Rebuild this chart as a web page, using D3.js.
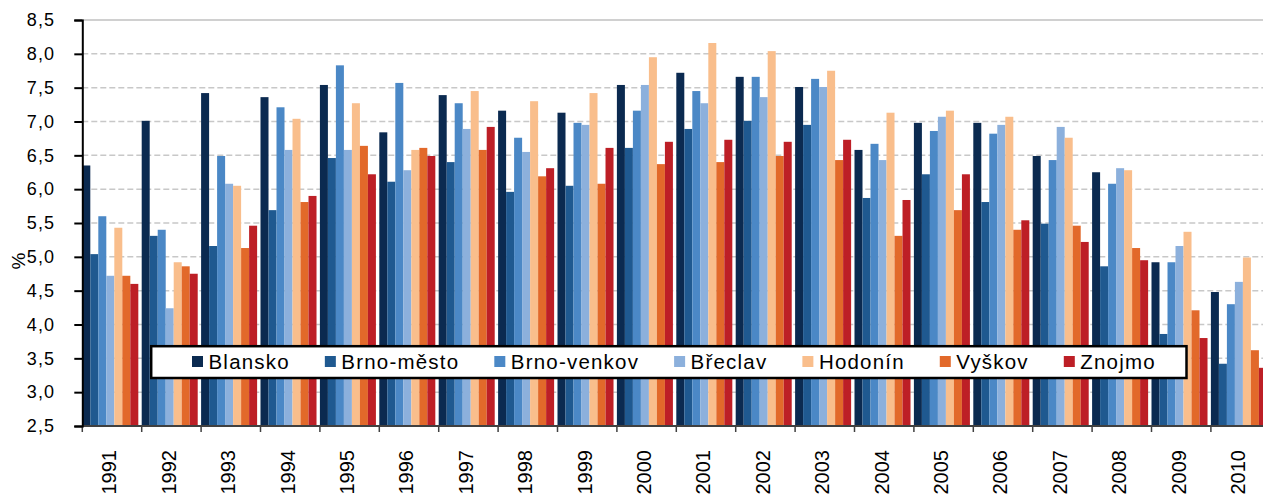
<!DOCTYPE html>
<html lang="cs">
<head>
  <meta charset="UTF-8">
  <title>Okresy 1991-2010</title>
  <style>
    body {
      margin: 0;
      background: #fff;
      font-family: "Liberation Sans", Arial, sans-serif;
    }
    .grid line {
      stroke: #c8c8c8;
      stroke-width: 1.5;
      stroke-dasharray: 6,3;
    }
    .grid .top {
      stroke-dasharray: none;
      stroke: #d0d0d0;
      stroke-width: 2;
    }
    .axis--y text {
      font-size: 18px;
      letter-spacing: 1.2px;
      fill: #000;
    }
    .axis--x text {
      font-size: 20px;
      fill: #000;
    }
    .legend text {
      font-size: 20.5px;
      letter-spacing: 1.2px;
      fill: #000;
    }
  </style>
  <script src="https://d3js.org/d3.v7.min.js"></script>
</head>
<body>
  <div id="chart"></div>
  <script>
/* global d3 */

var years = ["1991", "1992", "1993", "1994", "1995", "1996", "1997", "1998", "1999", "2000",
  "2001", "2002", "2003", "2004", "2005", "2006", "2007", "2008", "2009", "2010"];

var seriesNames = ["Blansko", "Brno-město", "Brno-venkov", "Břeclav", "Hodonín", "Vyškov", "Znojmo"];

var blansko    = [6.35, 7.01, 7.42, 7.36, 7.54, 6.84, 7.39, 7.16, 7.13, 7.54, 7.72, 7.66, 7.51, 6.58, 6.98, 6.98, 6.49, 6.25, 4.92, 4.48];
var brnoMesto  = [5.04, 5.31, 5.16, 5.69, 6.46, 6.11, 6.40, 5.96, 6.05, 6.61, 6.89, 7.01, 6.95, 5.87, 6.22, 5.81, 5.49, 4.86, 3.86, 3.42];
var brnoVenkov = [5.60, 5.40, 6.49, 7.21, 7.83, 7.57, 7.27, 6.76, 6.98, 7.16, 7.45, 7.66, 7.63, 6.67, 6.86, 6.82, 6.43, 6.08, 4.92, 4.30];
var breclav    = [4.72, 4.24, 6.08, 6.58, 6.58, 6.28, 6.89, 6.55, 6.95, 7.54, 7.27, 7.36, 7.51, 6.43, 7.07, 6.95, 6.92, 6.31, 5.16, 4.63];
var hodonin    = [5.43, 4.92, 6.05, 7.04, 7.27, 6.58, 7.45, 7.30, 7.42, 7.95, 8.16, 8.04, 7.75, 7.13, 7.16, 7.07, 6.76, 6.28, 5.37, 4.99];
var vyskov     = [4.72, 4.86, 5.13, 5.81, 6.64, 6.61, 6.58, 6.19, 6.08, 6.37, 6.40, 6.49, 6.43, 5.31, 5.69, 5.40, 5.46, 5.13, 4.21, 3.62];
var znojmo     = [4.60, 4.75, 5.46, 5.90, 6.22, 6.49, 6.92, 6.31, 6.61, 6.70, 6.73, 6.70, 6.73, 5.84, 6.22, 5.54, 5.22, 4.95, 3.80, 3.36];

var yTicks = [2.5, 3.0, 3.5, 4.0, 4.5, 5.0, 5.5, 6.0, 6.5, 7.0, 7.5, 8.0, 8.5];

var colors = ["#0b2a50", "#1f5990", "#4b88c6", "#8cb0dc", "#f9be8c", "#e2692a", "#bd1f26"];

var seriesValues = [blansko, brnoMesto, brnoVenkov, breclav, hodonin, vyskov, znojmo];

var W = 1263, H = 494;
var margin = {top: 20, left: 82.3};
var plotH = 406,
  groupW = 59.4,
  plotW = groupW * years.length;   // runs past the right edge, as in the original

var svg = d3.select("#chart")
  .append("svg")
  .attr("width", W)
  .attr("height", H)
  .style("display", "block");

var g = svg.append("g")
  .attr("transform", "translate(" + margin.left + "," + margin.top + ")");

var x0 = d3.scaleBand().domain(years).range([0, plotW]).padding(0);
var x1 = d3.scaleBand().domain(seriesNames).range([0, groupW * 0.943]).padding(0);
var y = d3.scaleLinear().domain([2.5, 8.5]).range([plotH, 0]);

var fmt = function (d) { return d3.format(".1f")(d).replace(".", ","); };

// gridlines
g.append("g")
  .attr("class", "grid")
  .selectAll("line")
  .data(yTicks.filter(function (d) { return d > 2.5; }))
  .enter().append("line")
  .attr("class", function (d) { return d === 8.5 ? "top" : null; })
  .attr("x1", 0)
  .attr("x2", W)
  .attr("y1", function (d) { return y(d); })
  .attr("y2", function (d) { return y(d); });

// bars
var rows = years.map(function (yr, i) {
  return {year: yr, values: seriesNames.map(function (s, j) {
    return {key: s, value: seriesValues[j][i], color: colors[j]};
  })};
});

g.append("g")
  .selectAll("g")
  .data(rows)
  .enter().append("g")
  .attr("transform", function (d) { return "translate(" + x0(d.year) + ",0)"; })
  .selectAll("rect")
  .data(function (d) { return d.values; })
  .enter().append("rect")
  .attr("x", function (d) { return x1(d.key); })
  .attr("width", x1.bandwidth())
  .attr("y", function (d) { return y(d.value); })
  .attr("height", function (d) { return plotH - y(d.value); })
  .attr("fill", function (d) { return d.color; });

// x axis
var gx = g.append("g")
  .attr("class", "axis--x")
  .attr("transform", "translate(0," + plotH + ")");

gx.append("line")
  .attr("x1", 0).attr("x2", W)
  .attr("stroke", "#404040")
  .attr("stroke-width", 2);

gx.selectAll(".tk")
  .data(years)
  .enter().append("line")
  .attr("class", "tk")
  .attr("x1", function (d) { return x0(d); })
  .attr("x2", function (d) { return x0(d); })
  .attr("y1", 0).attr("y2", 6)
  .attr("stroke", "#404040")
  .attr("stroke-width", 1.5);

gx.selectAll("text")
  .data(years)
  .enter().append("text")
  .attr("transform", function (d) {
    return "translate(" + (x0(d) + x1.range()[1] / 2 - 1) + ",24) rotate(-90)";
  })
  .attr("dy", "0.35em")
  .attr("text-anchor", "end")
  .text(function (d) { return d; });

// y axis
g.append("g")
  .attr("class", "axis--y")
  .call(d3.axisLeft(y)
    .tickValues(yTicks)
    .tickFormat(fmt)
    .tickSize(8)
    .tickPadding(19))
  .call(function (s) {
    s.select(".domain").attr("stroke", "#000").attr("stroke-width", 2);
    s.selectAll(".tick line").attr("stroke", "#000").attr("stroke-width", 2);
    s.selectAll("text").attr("font-family", null).attr("font-size", null);
  });

svg.append("text")
  .attr("transform", "translate(18,261) rotate(-90)")
  .attr("text-anchor", "middle")
  .attr("dy", "0.35em")
  .style("font-size", "19px")
  .text("%");

// legend
var legend = svg.append("g").attr("class", "legend");

legend.append("rect")
  .attr("x", 151.2)
  .attr("y", 346.2)
  .attr("width", 1035.3)
  .attr("height", 31.8)
  .attr("fill", "#fff")
  .attr("stroke", "#000")
  .attr("stroke-width", 2.5);

var lx = 192;
seriesNames.forEach(function (name, i) {
  legend.append("rect")
    .attr("x", lx)
    .attr("y", 356)
    .attr("width", 11)
    .attr("height", 11)
    .attr("fill", colors[i]);
  var t = legend.append("text")
    .attr("x", lx + 16.5)
    .attr("y", 368.5)
    .text(name);
  lx = lx + 16.5 + t.node().getComputedTextLength() + 35;
});
  </script>
</body>
</html>
